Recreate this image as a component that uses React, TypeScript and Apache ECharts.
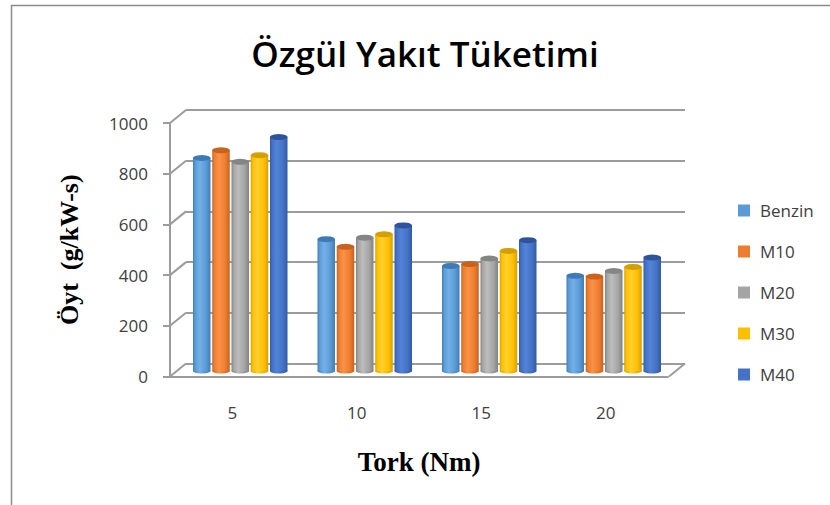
import React, { useEffect, useRef } from "react";
import * as echarts from "echarts";

const categories = ["5", "10", "15", "20"];
const seriesNames = ["Benzin", "M10", "M20", "M30", "M40"];
const benzin = [837, 518, 413, 374];
const m10 = [867, 488, 420, 371];
const m20 = [822, 524, 442, 393];
const m30 = [848, 537, 472, 409];
const m40 = [919, 572, 514, 446];
const yTicks = [0, 200, 400, 600, 800, 1000];

const seriesValues = [benzin, m10, m20, m30, m40];
// base, light, dark, cap
const palette = [
  ["#5B9BD5", "#74B0E8", "#3F7DB8", "#3E7BB6"],
  ["#ED7D31", "#FA9245", "#C8621E", "#C9621C"],
  ["#A5A5A5", "#BDBDBD", "#828282", "#858585"],
  ["#FFC000", "#FFD030", "#D9A000", "#D4A000"],
  ["#4472C4", "#5383D8", "#3259A6", "#2D549A"],
];

const FONT = "'Open Sans', 'Noto Sans', sans-serif";
const SERIF = "'Liberation Serif', 'DejaVu Serif', serif";
const BAR_W = 17.5;
const BAR_GAP = "10%";
const DX = 16;
const DY = 13;
const GRID_COLOR = "#9c9c9c";

export default function App() {
  const ref = useRef<HTMLDivElement>(null);
  useEffect(() => {
    if (!ref.current) return;
    const chart = echarts.init(ref.current, null, { renderer: "svg" });

    const barGrid = { left: 178, top: 116.5, width: 498, height: 254.5 };

    const bars: any[] = seriesNames.map((name, i) => ({
      type: "bar",
      name,
      xAxisIndex: 2,
      yAxisIndex: 2,
      data: seriesValues[i],
      barWidth: BAR_W,
      barGap: BAR_GAP,
      z: 5,
      itemStyle: {
        color: new echarts.graphic.LinearGradient(0, 0, 1, 0, [
          { offset: 0, color: palette[i][2] },
          { offset: 0.12, color: palette[i][0] },
          { offset: 0.38, color: palette[i][1] },
          { offset: 0.75, color: palette[i][0] },
          { offset: 1, color: palette[i][2] },
        ]),
      },
    }));

    const caps: any[] = seriesNames.map((name, i) => ({
      type: "pictorialBar",
      name: name + " cap",
      xAxisIndex: 3,
      yAxisIndex: 3,
      data: seriesValues[i],
      barWidth: BAR_W,
      barGap: BAR_GAP,
      symbol: "circle",
      symbolSize: [BAR_W, 6],
      symbolPosition: "end",
      symbolOffset: [0, "-50%"],
      z: 6,
      itemStyle: { color: palette[i][3] },
    }));

    const bottoms: any[] = seriesNames.map((name, i) => ({
      type: "pictorialBar",
      name: name + " base",
      xAxisIndex: 4,
      yAxisIndex: 4,
      data: seriesValues[i],
      barWidth: BAR_W,
      barGap: BAR_GAP,
      symbol: "circle",
      symbolSize: [BAR_W, 5],
      symbolPosition: "start",
      symbolOffset: [0, "50%"],
      z: 4,
      itemStyle: {
        color: new echarts.graphic.LinearGradient(0, 0, 1, 0, [
          { offset: 0, color: palette[i][2] },
          { offset: 0.38, color: palette[i][1] },
          { offset: 1, color: palette[i][2] },
        ]),
      },
    }));

    const wallData: number[][] = yTicks.map((v) => [0, v]);
    wallData.push([1, 0]);

    const walls = {
      type: "custom",
      name: "walls",
      xAxisIndex: 0,
      yAxisIndex: 0,
      data: wallData,
      silent: true,
      z: 1,
      renderItem: (_params: any, api: any) => {
        const p = api.coord([api.value(0), api.value(1)]);
        return {
          type: "line",
          shape: { x1: p[0], y1: p[1], x2: p[0] - DX, y2: p[1] + DY },
          style: { stroke: GRID_COLOR, lineWidth: 2 },
        };
      },
    };

    const hiddenCat = (gridIndex: number) => ({
      type: "category",
      gridIndex,
      data: categories,
      show: false,
    });
    const hiddenVal = (gridIndex: number) => ({
      type: "value",
      gridIndex,
      min: 0,
      max: 1000,
      interval: 200,
      show: false,
    });

    chart.setOption({
      animation: false,
      backgroundColor: "#ffffff",
      title: {
        text: "Özgül Yakıt Tüketimi",
        left: 420,
        textAlign: "center",
        top: 31,
        textStyle: {
          fontFamily: FONT,
          fontSize: 35,
          fontWeight: 600,
          color: "#000000",
        },
      },
      legend: {
        orient: "vertical",
        left: 733,
        top: 197,
        icon: "rect",
        itemWidth: 12,
        itemHeight: 12,
        itemGap: 24,
        selectedMode: false,
        data: seriesNames.map((n, i) => ({ name: n, itemStyle: { color: palette[i][0] } })),
        textStyle: {
          fontFamily: FONT,
          fontSize: 17,
          lineHeight: 17,
          color: "#404040",
          padding: [0, 0, 0, 5],
        },
      },
      graphic: [
        {
          type: "rect",
          shape: { x: 11.5, y: 5.5, width: 830, height: 520 },
          style: { fill: "none", stroke: "#8c8c8c", lineWidth: 1.5 },
          silent: true,
        },
      ],
      grid: [
        { left: 186, top: 110, width: 499, height: 253.5 },
        { left: 170, top: 123, width: 498, height: 253.5 },
        barGrid,
        barGrid,
        barGrid,
      ],
      xAxis: [
        { type: "value", gridIndex: 0, min: 0, max: 1, show: false },
        {
          type: "category",
          gridIndex: 1,
          data: categories,
          axisLine: { show: true, lineStyle: { color: GRID_COLOR, width: 2 } },
          axisTick: { show: false },
          axisLabel: { margin: 27, fontFamily: FONT, fontSize: 17, color: "#404040" },
          name: "Tork (Nm)",
          nameLocation: "middle",
          nameGap: 72,
          nameTextStyle: { fontFamily: SERIF, fontSize: 27, fontWeight: "bold", color: "#000000" },
        },
        hiddenCat(2),
        hiddenCat(3),
        hiddenCat(4),
      ],
      yAxis: [
        {
          type: "value",
          gridIndex: 0,
          min: 0,
          max: 1000,
          interval: 200,
          axisLine: { show: false },
          axisTick: { show: false },
          axisLabel: { show: false },
          splitLine: { show: true, lineStyle: { color: GRID_COLOR, width: 2 } },
        },
        {
          type: "value",
          gridIndex: 1,
          min: 0,
          max: 1000,
          interval: 200,
          axisLine: { show: true, lineStyle: { color: GRID_COLOR, width: 2 } },
          axisTick: { show: true, length: 7, lineStyle: { color: GRID_COLOR, width: 2 } },
          axisLabel: {
            margin: 22,
            fontFamily: FONT,
            fontSize: 17,
            color: "#404040",
            formatter: (v: number) => String(v),
          },
          splitLine: { show: false },
          name: "Öyt  (g/kW-s)",
          nameLocation: "middle",
          nameRotate: 90,
          nameGap: 88,
          nameTextStyle: { fontFamily: SERIF, fontSize: 26, fontWeight: "bold", color: "#000000" },
        },
        hiddenVal(2),
        hiddenVal(3),
        hiddenVal(4),
      ],
      series: [walls, ...bottoms, ...bars, ...caps],
    });
    return () => chart.dispose();
  }, []);
  return (
    <div
      ref={ref}
      style={{ position: "fixed", left: 0, top: 0, width: 830, height: 505 }}
    />
  );
}
